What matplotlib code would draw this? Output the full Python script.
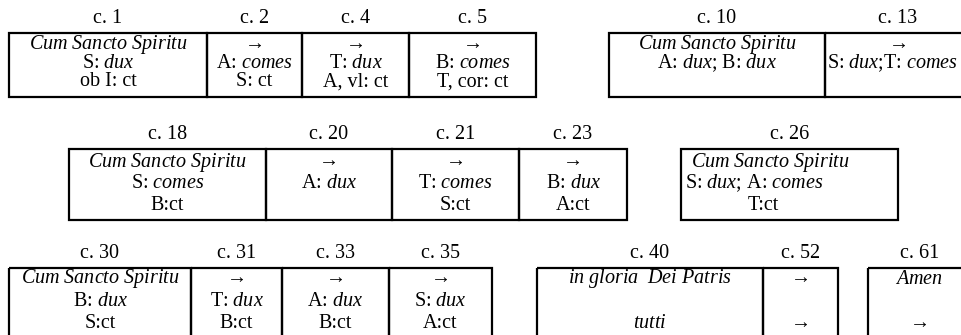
import re
import matplotlib
matplotlib.use("Agg")
import matplotlib.pyplot as plt
from matplotlib.patches import Rectangle

plt.rcParams['font.family'] = ['Liberation Serif', 'DejaVu Serif']
plt.rcParams['mathtext.fontset'] = 'custom'
plt.rcParams['mathtext.rm'] = 'Liberation Serif'
plt.rcParams['mathtext.it'] = 'Liberation Serif:italic'

# text between underscores is set in italics
row1_bars = ["c. 1", "c. 2", "c. 4", "c. 5"]
row1_cells = [["_Cum Sancto Spiritu_", "S: _dux_", "ob I: ct"],
              ["→", "A: _comes_", "S: ct"],
              ["→", "T: _dux_", "A, vl: ct"],
              ["→", "B: _comes_", "T, cor: ct"]]
row1b_bars = ["c. 10"]
row1b_cells = [["_Cum Sancto Spiritu_", "A: _dux_; B: _dux_"]]
row1c_bars = ["c. 13"]
row1c_cells = [["→", "S: _dux_;T: _comes_"]]

row2_bars = ["c. 18", "c. 20", "c. 21", "c. 23"]
row2_cells = [["_Cum Sancto Spiritu_", "S: _comes_", "B:ct"],
              ["→", "A: _dux_"],
              ["→", "T: _comes_", "S:ct"],
              ["→", "B: _dux_", "A:ct"]]
row2b_bars = ["c. 26"]
row2b_cells = [["_Cum Sancto Spiritu_", "S: _dux_; A: _comes_", "T:ct"]]

row3_bars = ["c. 30", "c. 31", "c. 33", "c. 35"]
row3_cells = [["_Cum Sancto Spiritu_", "B: _dux_", "S:ct"],
              ["→", "T: _dux_", "B:ct"],
              ["→", "A: _dux_", "B:ct"],
              ["→", "S: _dux_", "A:ct"]]
row3b_bars = ["c. 40", "c. 52"]
row3b_cells = [["_in gloria  Dei Patris_", "", "_tutti_"],
               ["→", "", "→"]]
row3c_bars = ["c. 61"]
row3c_cells = [["_Amen_", "", "→"]]


def fmt(s):
    return re.sub(r'_(.+?)_',
                  lambda m: r'$\mathit{' + m.group(1).replace(' ', r'\ ') + '}$', s)


fig = plt.figure(figsize=(9.61, 3.35), dpi=100)
ax = fig.add_axes([0, 0, 1, 1])
ax.set_xlim(0, 961)
ax.set_ylim(335, 0)
ax.axis('off')

FS = 14.5


def group(edges, top, bottom, bars, cells, offs, left=None):
    for i, (lab, lines) in enumerate(zip(bars, cells)):
        x0, x1 = edges[i], edges[i + 1]
        ax.add_patch(Rectangle((x0, top), x1 - x0, bottom - top, fill=False,
                               lw=1.6, ec='black'))
        xc = (x0 + x1) / 2
        ax.text(xc, top - 5, lab, ha='center', va='bottom', fontsize=FS)
        for j, s in enumerate(lines):
            if not s:
                continue
            if left is not None:
                ax.text(x0 + left[j], top + offs[j], fmt(s), ha='left',
                        va='center', fontsize=FS)
            else:
                ax.text(xc, top + offs[j], fmt(s), ha='center', va='center',
                        fontsize=FS)


r1 = [12, 30.5, 49]
group([9, 207, 302, 409, 536], 33, 97, row1_bars, row1_cells, r1)
group([609, 825], 33, 97, row1b_bars, row1b_cells, r1)
group([825, 971], 33, 97, row1c_bars, row1c_cells, r1, left=[64, 2])
group([69, 266, 392, 519, 627], 149, 220, row2_bars, row2_cells, [13, 34, 57])
group([681, 898], 149, 220, row2b_bars, row2b_cells, [13, 34, 57],
      left=[10, 4, 67])
group([9, 191, 282, 389, 492], 268, 345, row3_bars, row3_cells, [11, 34, 56])
group([537, 763, 838], 268, 345, row3b_bars, row3b_cells, [11, 34, 56])
group([868, 971], 268, 345, row3c_bars, row3c_cells, [11, 34, 56])

fig.savefig("out.png", dpi=100)
